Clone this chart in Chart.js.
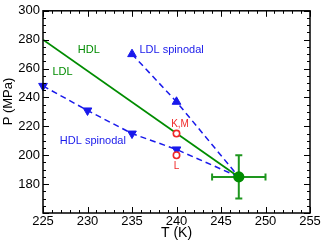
<!DOCTYPE html>
<html><head><meta charset="utf-8">
<script src="https://cdn.jsdelivr.net/npm/chart.js@4"></script>
<style>html,body{margin:0;padding:0;background:#fff}#wrap{width:322px;height:245px}</style>
</head><body><div id="wrap"><canvas id="c" width="322" height="245"></canvas></div>
<script>
// ---- data ----
const coexT = [225, 247];
const coexP = [280, 185];
const ldlSpinT = [235, 240, 247];
const ldlSpinP = [270, 237, 185];
const hdlSpinT = [225, 230, 235, 240, 247];
const hdlSpinP = [248, 231, 215, 204, 185];
const simT = [240, 240];
const simP = [215, 200];
const critT = [247];
const critP = [185];
const critErrT = [3];
const critErrP = [15];
const xTicks = [225, 230, 235, 240, 245, 250, 255];
const yTicks = [160, 180, 200, 220, 240, 260, 280, 300];
const labelTexts = ["HDL", "LDL", "LDL spinodal", "HDL spinodal", "K,M", "L"];
const labelT = [230.15, 227.2, 239.45, 230.6, 240.4, 240.0];
const labelP = [272.9, 257.4, 272.9, 209.7, 221.5, 192.5];
const yTitle = "P (MPa)";
const xTitle = "T (K)";

const GREEN = 'rgb(0,140,0)';
const GREEN2 = 'rgb(30,150,30)';
const BLUE = 'rgb(25,25,235)';
const RED = 'rgb(240,40,40)';
const labelColors = [GREEN, GREEN, BLUE, BLUE, RED, RED];
const labelSizes = [11, 11, 11, 11, 10, 10];

const pts = (xs, ys) => xs.map((x, i) => ({x: x, y: ys[i]}));
const FONT = '"Liberation Sans", Arial, sans-serif';

const frame = {
  id: 'frame',
  afterDatasetsDraw(chart) {
    const ctx = chart.ctx, a = chart.chartArea;
    const xs = chart.scales.x, ys = chart.scales.y;
    ctx.save();
    // error bars
    ctx.strokeStyle = GREEN2; ctx.lineWidth = 2;
    for (let i = 0; i < critT.length; i++) {
      const cx = xs.getPixelForValue(critT[i]), cy = ys.getPixelForValue(critP[i]);
      const x1 = xs.getPixelForValue(critT[i] - critErrT[i]), x2 = xs.getPixelForValue(critT[i] + critErrT[i]);
      const y1 = ys.getPixelForValue(critP[i] - critErrP[i]), y2 = ys.getPixelForValue(critP[i] + critErrP[i]);
      ctx.beginPath();
      ctx.moveTo(x1, cy); ctx.lineTo(x2, cy);
      ctx.moveTo(cx, y1); ctx.lineTo(cx, y2);
      ctx.moveTo(x1, cy - 3.5); ctx.lineTo(x1, cy + 3.5);
      ctx.moveTo(x2, cy - 3.5); ctx.lineTo(x2, cy + 3.5);
      ctx.moveTo(cx - 3.5, y1); ctx.lineTo(cx + 3.5, y1);
      ctx.moveTo(cx - 3.5, y2); ctx.lineTo(cx + 3.5, y2);
      ctx.stroke();
      ctx.fillStyle = GREEN;
      ctx.beginPath(); ctx.arc(cx, cy, 5.6, 0, Math.PI * 2); ctx.fill();
    }
    // texts
    ctx.textAlign = 'center'; ctx.textBaseline = 'middle';
    for (let i = 0; i < labelTexts.length; i++) {
      ctx.fillStyle = labelColors[i];
      ctx.font = labelSizes[i] + 'px ' + FONT;
      ctx.fillText(labelTexts[i], xs.getPixelForValue(labelT[i]), ys.getPixelForValue(labelP[i]));
    }
    // y axis title
    ctx.save();
    ctx.fillStyle = '#000';
    ctx.font = '13px ' + FONT;
    ctx.translate(8.5, 101.5);
    ctx.rotate(-Math.PI / 2);
    ctx.fillText(yTitle, 0, 0);
    ctx.restore();
    // frame
    ctx.strokeStyle = '#000'; ctx.lineWidth = 1.5;
    ctx.strokeRect(a.left, a.top, a.right - a.left, a.bottom - a.top);
    ctx.lineWidth = 1;
    ctx.beginPath();
    for (let v = xs.min; v <= xs.max + 1e-6; v += 1) {
      const p = Math.round(xs.getPixelForValue(v)) + 0.5;
      const L = (Math.abs(v % 5) < 1e-6) ? 6 : 3;
      ctx.moveTo(p, a.bottom); ctx.lineTo(p, a.bottom - L);
      ctx.moveTo(p, a.top); ctx.lineTo(p, a.top + L);
    }
    for (let v = ys.min; v <= ys.max + 1e-6; v += 5) {
      const p = Math.round(ys.getPixelForValue(v)) + 0.5;
      const L = (Math.abs(v % 20) < 1e-6) ? 6 : 3;
      ctx.moveTo(a.left, p); ctx.lineTo(a.left + L, p);
      ctx.moveTo(a.right, p); ctx.lineTo(a.right - L, p);
    }
    ctx.stroke();
    ctx.restore();
  }
};

new Chart(document.getElementById('c'), {
  type: 'scatter',
  data: {
    datasets: [
      {data: pts(coexT, coexP), showLine: true, borderColor: GREEN, borderWidth: 1.8, pointRadius: 0, order: 4},
      {data: pts(ldlSpinT, ldlSpinP), showLine: true, borderColor: BLUE, borderWidth: 1.5, borderDash: [6, 4],
       pointStyle: 'triangle', pointRadius: [5, 5, 0], backgroundColor: BLUE, pointBorderColor: BLUE, pointBorderWidth: 1, clip: false, order: 3},
      {data: pts(hdlSpinT, hdlSpinP), showLine: true, borderColor: BLUE, borderWidth: 1.5, borderDash: [6, 4],
       pointStyle: 'triangle', rotation: 180, pointRadius: [5, 5, 5, 5, 0], backgroundColor: BLUE, pointBorderColor: BLUE, pointBorderWidth: 1, clip: false, order: 2},
      {data: pts(simT, simP), showLine: false, pointStyle: 'circle', pointRadius: 3.2, backgroundColor: '#fff',
       borderColor: RED, pointBorderWidth: 1.6, order: 1}
    ]
  },
  options: {
    responsive: false, animation: false, devicePixelRatio: 1,
    layout: {padding: {left: 0, right: 12, top: 6, bottom: 0}},
    plugins: {legend: {display: false}, tooltip: {enabled: false}},
    scales: {
      x: {
        type: 'linear', min: 225, max: 255,
        afterBuildTicks: s => { s.ticks = xTicks.map(v => ({value: v})); },
        afterFit: s => { s.height = 32; },
        grid: {display: false, drawTicks: false}, border: {display: false},
        ticks: {color: '#000', padding: 1, font: {family: FONT, size: 13}},
        title: {display: true, text: xTitle, color: '#000', font: {family: FONT, size: 14}, padding: {top: 0, bottom: 3}}
      },
      y: {
        type: 'linear', min: 160, max: 300,
        afterBuildTicks: s => { s.ticks = yTicks.map(v => ({value: v})); },
        afterFit: s => { s.width = 43; },
        grid: {display: false, drawTicks: false}, border: {display: false},
        ticks: {color: '#000', padding: 3, font: {family: FONT, size: 13}, callback: v => v === 160 ? '' : String(v)},
        title: {display: false}
      }
    }
  },
  plugins: [frame]
});
</script></body></html>
